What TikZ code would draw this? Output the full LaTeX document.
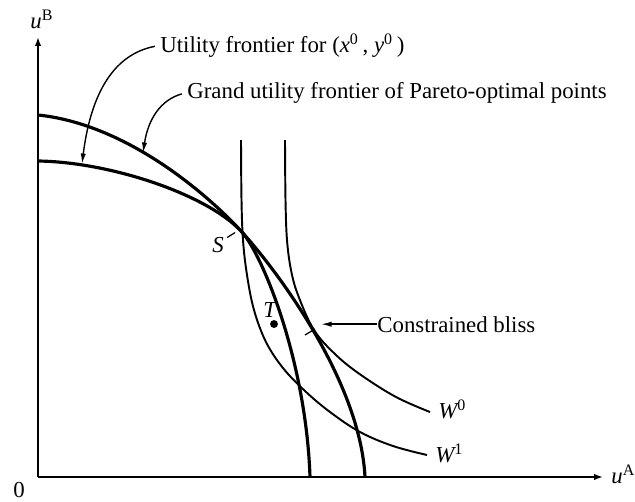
\documentclass[tikz,border=0pt]{standalone}
\usepackage{fontspec}
\setmainfont{Liberation Serif}
\usetikzlibrary{arrows.meta,calc}

\begin{document}
\begin{tikzpicture}[x=0.02cm,y=-0.02cm,font=\fontsize{13}{15}\selectfont,
  axis/.style={line width=0.9pt,-{Latex[length=5pt,width=3.6pt]}},
  frontier/.style={line width=1.8pt,line join=round},
  welfare/.style={line width=1.1pt},
  callout/.style={line width=0.8pt,-{Latex[length=6pt,width=3pt]}},
  tick/.style={line width=0.7pt},
  tag/.style={inner sep=0pt,anchor=base west}]
\useasboundingbox (0,0) rectangle (635,501);
\coordinate (O) at (38,477);
\coordinate (ytop) at (38,37);
\coordinate (xend) at (603,477);
\draw[axis] (O) -- (ytop);
\draw[axis] (O) -- (xend);
\node[tag] (uB) at (30,28) {{\itshape u}\textsuperscript{B}};
\node[tag] (uA) at (611,483) {{\itshape u}\textsuperscript{A}};
\node[tag] (zero) at (13,497) {0};
% frontiers, touching at S
\coordinate (S) at (241,231);
\draw[frontier] (38,115) .. controls (125,124) and (205,192) .. (S)
   .. controls (275,268) and (360,380) .. (365,477);
\draw[frontier] (38,161) .. controls (110,162) and (206,194) .. (S)
   .. controls (262,253) and (306,360) .. (310,477);
% welfare contours
\draw[welfare] plot[smooth,tension=0.6] coordinates {(285,140) (285.5,200) (287,240) (291,270) (298,295) (314,330) (336,355) (361,375) (396,397) (430,412)};
\draw[welfare] plot[smooth,tension=0.6] coordinates {(241,140) (241.5,200) (243,240) (247,275) (254,310) (266,342) (283,368) (305,391) (330,412) (360,432) (393,446) (427,455)};
\node[tag] (w0) at (438,418) {{\itshape W}\textsuperscript{0}};
\node[tag] (w1) at (435,462) {{\itshape W}\textsuperscript{1}};
% points
\node[tag] (slbl) at (212,252) {\itshape S};
\draw[tick] (slbl.north east) ++(3,1) -- ++(8,-5);
\node[tag] (tlbl) at (263,317) {\itshape T};
\node[circle,fill,inner sep=0pt,minimum size=4.5pt] (T) at (274,324) {};
\coordinate (cb) at (314,330);
\draw[tick] ($(cb)+(-9,5)$) -- ($(cb)+(1,-1)$);
% callouts
\node[tag] (ufx) at (160,52) {Utility frontier for ({\itshape x}\textsuperscript{0}\,, {\itshape y}\textsuperscript{0}\,)};
\node[tag] (guf) at (187,98) {Grand utility frontier of Pareto-optimal points};
\node[tag] (cbl) at (377,332) {Constrained bliss};
\coordinate (ufxtip) at (82,164);
\coordinate (guftip) at (143,153);
\coordinate (cbtip) at (321,327);
\draw[callout,shorten <=3pt] (ufx.west) .. controls (110,55) and (90,100) .. (ufxtip);
\draw[callout,shorten <=3pt] (guf.west) .. controls (160,100) and (148,120) .. (guftip);
\draw[callout] (cbl.west) -- (cbl.west -| cbtip);
\end{tikzpicture}
\end{document}
